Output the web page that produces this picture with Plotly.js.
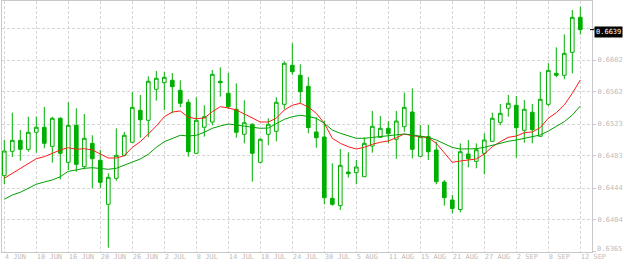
<!DOCTYPE html>
<html>
<head>
<meta charset="utf-8">
<script src="https://cdn.plot.ly/plotly-3.0.1.min.js"></script>
<style>html,body{margin:0;padding:0;background:#fff;}#chart{width:624px;height:266px;}</style>
</head>
<body>
<div id="chart"></div>
<script>
// Daily candles, 4 JUN .. 12 SEP
const dateLabels = ['4 JUN','10 JUN','16 JUN','20 JUN','26 JUN','2 JUL','8 JUL','14 JUL','18 JUL','24 JUL','30 JUL','5 AUG','11 AUG','15 AUG','21 AUG','27 AUG','2 SEP','8 SEP','12 SEP'];
const barsPerLabel = 4;

const openP = [0.64589,0.64890,0.65025,0.64914,0.65124,0.65186,0.64951,0.65297,0.64754,0.65210,
0.64700,0.64988,0.64779,0.64236,0.64557,0.64840,0.65001,0.65395,0.65272,0.65654,
0.65736,0.65765,0.65642,0.65494,0.64865,0.65186,0.65251,0.65753,0.65605,0.65408,
0.65099,0.65223,0.64754,0.65099,0.65136,0.65469,0.65950,0.65827,0.65691,0.65128,
0.65066,0.64310,0.64219,0.64634,0.64626,0.64576,0.64955,0.65062,0.65173,0.65038,
0.65193,0.65374,0.64828,0.65070,0.64906,0.64511,0.64289,0.64172,0.64856,0.64766,
0.64865,0.65013,0.65247,0.65420,0.65457,0.65149,0.65371,0.65075,0.65469,0.65851,
0.65827,0.66110,0.66542];

const highP = [0.65029,0.65366,0.65152,0.65316,0.65316,0.65436,0.65316,0.65309,0.65494,0.65420,
0.65350,0.65087,0.64906,0.64618,0.65173,0.65128,0.65621,0.65584,0.65814,0.65880,
0.65867,0.65855,0.65765,0.65531,0.65556,0.65457,0.65892,0.65925,0.65855,0.65728,
0.65519,0.65235,0.65050,0.65297,0.65556,0.65999,0.66221,0.65962,0.65806,0.65309,
0.65267,0.64742,0.64918,0.64877,0.64782,0.65062,0.65387,0.65325,0.65263,0.65387,
0.65612,0.65666,0.65214,0.65214,0.65008,0.64536,0.64351,0.64988,0.65029,0.64988,
0.65112,0.65366,0.65473,0.65584,0.65572,0.65522,0.65473,0.65871,0.65975,0.66172,
0.66332,0.66632,0.66673];

const lowP = [0.64483,0.64819,0.64774,0.64885,0.64872,0.64927,0.64749,0.64544,0.64659,0.64638,
0.64668,0.64433,0.64437,0.63701,0.64527,0.64828,0.64992,0.65057,0.65062,0.65514,
0.65399,0.65358,0.65432,0.64823,0.64855,0.65070,0.65210,0.65563,0.65415,0.65057,
0.64988,0.64515,0.64742,0.64964,0.65013,0.65408,0.65834,0.65482,0.65112,0.64934,
0.64236,0.64219,0.64166,0.64564,0.64483,0.64570,0.64872,0.65055,0.64988,0.64798,
0.65131,0.64803,0.64820,0.64782,0.64483,0.64219,0.64125,0.64137,0.64692,0.64680,
0.64606,0.65005,0.65210,0.65316,0.64811,0.64996,0.64988,0.65070,0.65448,0.65802,
0.65778,0.65851,0.66330];

const closeP = [0.64893,0.65025,0.64914,0.65124,0.65186,0.64988,0.65297,0.64865,0.65210,0.64729,
0.65050,0.64798,0.64507,0.64569,0.64840,0.65087,0.65432,0.65279,0.65753,0.65790,
0.65802,0.65686,0.65482,0.64885,0.65272,0.65316,0.65839,0.65736,0.65440,0.65124,
0.65242,0.64865,0.65038,0.65223,0.65494,0.65975,0.65871,0.65625,0.65183,0.65057,
0.64318,0.64236,0.64717,0.64613,0.64696,0.64988,0.65198,0.65173,0.65107,0.65263,
0.65432,0.64914,0.65070,0.64885,0.64515,0.64318,0.64184,0.64885,0.64798,0.64909,
0.65029,0.65297,0.65358,0.65482,0.65181,0.65408,0.65156,0.65531,0.65888,0.65827,
0.66098,0.66542,0.66390];

// Fast moving average (red)
const maFast = [0.64557,0.64618,0.64680,0.64742,0.64798,0.64823,0.64865,0.64906,0.64934,0.64914,
0.64922,0.64906,0.64856,0.64807,0.64807,0.64835,0.64939,0.65008,0.65103,0.65202,
0.65316,0.65374,0.65387,0.65309,0.65292,0.65300,0.65378,0.65440,0.65424,0.65399,
0.65350,0.65297,0.65251,0.65251,0.65297,0.65399,0.65457,0.65482,0.65436,0.65358,
0.65235,0.65050,0.64988,0.64946,0.64918,0.64939,0.64976,0.65001,0.65017,0.65057,
0.65103,0.65082,0.65070,0.65057,0.64988,0.64865,0.64754,0.64770,0.64782,0.64795,
0.64856,0.64946,0.65008,0.65062,0.65078,0.65119,0.65128,0.65181,0.65297,0.65366,
0.65461,0.65605,0.65769];

// Slow moving average (green)
const maSlow = [0.64298,0.64351,0.64384,0.64433,0.64483,0.64511,0.64536,0.64576,0.64643,0.64659,
0.64680,0.64687,0.64680,0.64668,0.64680,0.64717,0.64761,0.64795,0.64853,0.64939,
0.65008,0.65050,0.65087,0.65078,0.65087,0.65124,0.65173,0.65202,0.65226,0.65214,
0.65202,0.65193,0.65173,0.65177,0.65226,0.65284,0.65316,0.65334,0.65319,0.65297,
0.65235,0.65152,0.65112,0.65078,0.65050,0.65050,0.65062,0.65070,0.65078,0.65091,
0.65103,0.65091,0.65078,0.65062,0.65029,0.64980,0.64937,0.64918,0.64918,0.64922,
0.64939,0.64964,0.64988,0.65013,0.65029,0.65050,0.65070,0.65091,0.65140,0.65193,
0.65255,0.65337,0.65448];

// Price scale ticks (0.6641 is hidden under the last-price box; 0.6365 is drawn raised, as in the original)
const priceTickVals = [0.63648,0.64043,0.64437,0.64832,0.65226,0.65621,0.66015,0.66410];
const priceTickText = ['','0.6404','0.6444','0.6483','0.6523','0.6562','0.6602',''];
const bottomPriceLabel = '0.6365';
const lastPriceLabel = '0.6639';

const idx = openP.map((_, i) => i);
const dateTickVals = dateLabels.map((_, i) => i * barsPerLabel);
const lastClose = closeP[closeP.length - 1];

const GREEN = '#00b000';
const AXIS = '#c8c8c8';
const GRID = '#d6d6d6';
const FONT = {family: 'DejaVu Sans Mono, monospace', size: 7, color: '#bdbdbd'};

const traces = [
  {
    type: 'candlestick', x: idx, open: openP, high: highP, low: lowP, close: closeP,
    increasing: {line: {color: GREEN, width: 1}, fillcolor: '#ffffff'},
    decreasing: {line: {color: GREEN, width: 1}, fillcolor: GREEN},
    whiskerwidth: 0, hoverinfo: 'skip'
  },
  {type: 'scatter', mode: 'lines', x: idx, y: maFast, line: {color: '#ff1a1a', width: 1}, hoverinfo: 'skip'},
  {type: 'scatter', mode: 'lines', x: idx, y: maSlow, line: {color: '#00a000', width: 1}, hoverinfo: 'skip'}
];

const layout = {
  width: 624, height: 266,
  margin: {l: 2, r: 32, t: 1, b: 14, pad: 0},
  paper_bgcolor: '#ffffff', plot_bgcolor: '#ffffff',
  showlegend: false,
  boxgap: 0.35,
  xaxis: {
    range: [-0.2875, 73.4625], tickmode: 'array', tickvals: dateTickVals, ticktext: dateLabels,
    tickangle: 0, ticklabelposition: 'outside right', ticks: '', ticklabelstandoff: -2,
    showgrid: true, gridcolor: GRID, griddash: '3px,2px', gridwidth: 1,
    showline: true, linecolor: AXIS, linewidth: 1, mirror: true, zeroline: false,
    tickfont: FONT, rangeslider: {visible: false}, fixedrange: true
  },
  yaxis: {
    side: 'right', range: [0.636479, 0.66743], tickmode: 'array', tickvals: priceTickVals, ticktext: priceTickText,
    ticks: 'outside', ticklen: 3, tickcolor: AXIS, tickwidth: 1,
    showgrid: true, gridcolor: GRID, griddash: '3px,2px', gridwidth: 1,
    showline: true, linecolor: AXIS, linewidth: 1, mirror: true, zeroline: false,
    tickfont: FONT, fixedrange: true
  },
  annotations: [
    {
      xref: 'paper', yref: 'y', x: 1, y: lastClose, xanchor: 'left', yanchor: 'middle',
      xshift: 2, yshift: -2, text: lastPriceLabel, showarrow: false, bgcolor: '#000000', borderpad: 1,
      font: {family: 'DejaVu Sans Mono, monospace', size: 7, color: '#ffffff'}
    },
    {
      xref: 'paper', yref: 'y', x: 1, y: priceTickVals[0], xanchor: 'left', yanchor: 'middle',
      xshift: 4, yshift: 3, text: bottomPriceLabel, showarrow: false, borderpad: 0, font: FONT
    }
  ],
  shapes: [{
    type: 'line', xref: 'paper', yref: 'y', x0: 0.9966, x1: 1.004,
    y0: lastClose, y1: lastClose,
    line: {color: '#000000', width: 1}
  }]
};

Plotly.newPlot('chart', traces, layout, {staticPlot: true, displayModeBar: false});
</script>
</body>
</html>
